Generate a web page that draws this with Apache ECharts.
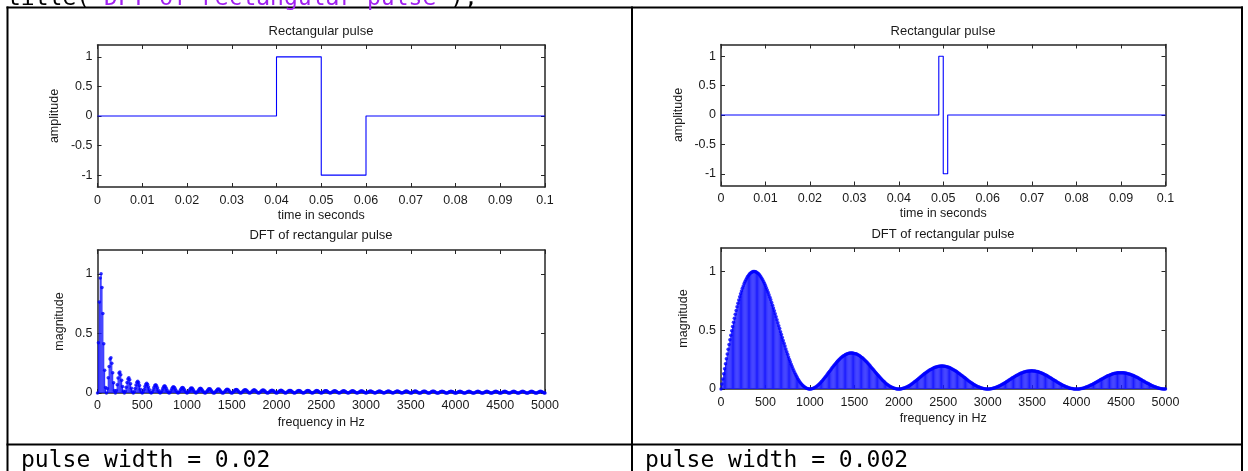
<!DOCTYPE html>
<html><head><meta charset="utf-8">
<script src="https://cdn.jsdelivr.net/npm/echarts@6/dist/echarts.min.js"></script>
<style>html,body{margin:0;padding:0;background:#fff;overflow:hidden}#c{width:1248px;height:471px}</style>
</head><body><div id="c"></div>
<script>
// ---- tick labels ----
const timeTicks = [0,0.01,0.02,0.03,0.04,0.05,0.06,0.07,0.08,0.09,0.1];
const freqTicks = [0,500,1000,1500,2000,2500,3000,3500,4000,4500,5000];
const ampTicks = [-1,-0.5,0,0.5,1];
const magTicks = [0,0.5,1];
// ---- texts ----
const pulseTitle = 'Rectangular pulse';
const dftTitle = 'DFT of rectangular pulse';
const pulseWidthLabels = ['pulse width = 0.02', 'pulse width = 0.002'];
// ---- time signals (breakpoints) ----
const pulseTimeWide = [0,0.04,0.04,0.05,0.05,0.06,0.06,0.1];
const pulseAmpWide  = [0,0,1,1,-1,-1,0,0];
const pulseTimeNarrow = [0,0.049,0.049,0.05,0.05,0.051,0.051,0.1];
const pulseAmpNarrow  = [0,0,1,1,-1,-1,0,0];
// ---- DFT magnitudes, one per 10 Hz bin (0..5000 Hz) ----
const binHz = 10;
const magWide = [
0,.422,.764,.965,1,.885,.667,.414,.191,.047,
0,.038,.127,.223,.286,.295,.250,.170,.085,.022,
0,.020,.069,.126,.167,.177,.154,.107,.055,.015,
0,.014,.048,.088,.118,.127,.111,.078,.040,.011,
0,.010,.037,.068,.091,.099,.087,.062,.032,.009,
0,.008,.030,.055,.074,.081,.072,.051,.027,.007,
0,.007,.025,.046,.063,.069,.061,.044,.023,.006,
0,.006,.021,.040,.055,.060,.053,.038,.020,.005,
0,.005,.019,.035,.048,.053,.047,.034,.018,.005,
0,.005,.017,.032,.043,.047,.042,.030,.016,.004,
0,.004,.015,.028,.039,.043,.039,.028,.015,.004,
0,.004,.014,.026,.036,.039,.036,.026,.014,.004,
0,.003,.013,.024,.033,.036,.033,.024,.013,.003,
0,.003,.012,.022,.031,.034,.031,.022,.012,.003,
0,.003,.011,.021,.029,.032,.029,.021,.011,.003,
0,.003,.010,.019,.027,.030,.027,.019,.010,.003,
0,.003,.010,.018,.025,.028,.025,.018,.010,.003,
0,.003,.009,.017,.024,.027,.024,.017,.009,.003,
0,.002,.009,.017,.023,.025,.023,.017,.009,.002,
0,.002,.008,.016,.022,.024,.022,.016,.008,.002,
0,.002,.008,.015,.021,.023,.021,.015,.008,.002,
0,.002,.008,.015,.020,.022,.020,.015,.008,.002,
0,.002,.007,.014,.019,.021,.019,.014,.007,.002,
0,.002,.007,.014,.019,.021,.019,.014,.007,.002,
0,.002,.007,.013,.018,.020,.018,.013,.007,.002,
0,.002,.007,.013,.018,.019,.018,.013,.007,.002,
0,.002,.006,.012,.017,.019,.017,.012,.006,.002,
0,.002,.006,.012,.017,.018,.017,.012,.006,.002,
0,.002,.006,.012,.016,.018,.016,.012,.006,.002,
0,.002,.006,.011,.016,.017,.016,.011,.006,.002,
0,.002,.006,.011,.015,.017,.015,.011,.006,.002,
0,.002,.006,.011,.015,.017,.015,.011,.006,.002,
0,.002,.006,.011,.015,.016,.015,.011,.006,.002,
0,.002,.006,.010,.014,.016,.014,.010,.006,.002,
0,.002,.005,.010,.014,.016,.014,.010,.005,.002,
0,.001,.005,.010,.014,.016,.014,.010,.005,.001,
0,.001,.005,.010,.014,.015,.014,.010,.005,.001,
0,.001,.005,.010,.014,.015,.014,.010,.005,.001,
0,.001,.005,.010,.013,.015,.013,.010,.005,.001,
0,.001,.005,.010,.013,.015,.013,.010,.005,.001,
0,.001,.005,.009,.013,.015,.013,.009,.005,.001,
0,.001,.005,.009,.013,.014,.013,.009,.005,.001,
0,.001,.005,.009,.013,.014,.013,.009,.005,.001,
0,.001,.005,.009,.013,.014,.013,.009,.005,.001,
0,.001,.005,.009,.013,.014,.013,.009,.005,.001,
0,.001,.005,.009,.013,.014,.013,.009,.005,.001,
0,.001,.005,.009,.013,.014,.013,.009,.005,.001,
0,.001,.005,.009,.013,.014,.013,.009,.005,.001,
0,.001,.005,.009,.013,.014,.013,.009,.005,.001,
0,.001,.005,.009,.013,.014,.013,.009,.005,.001,
0
];
const magNarrow = [
0,.043,.086,.129,.172,.215,.257,.298,.339,.379,
.419,.457,.495,.532,.568,.602,.636,.668,.699,.729,
.758,.785,.810,.834,.857,.877,.897,.914,.930,.945,
.958,.969,.978,.986,.992,.996,.999,1,.999,.997,
.994,.988,.982,.974,.964,.953,.941,.928,.913,.897,
.880,.862,.843,.823,.803,.781,.759,.736,.713,.689,
.665,.640,.615,.590,.564,.539,.514,.488,.463,.438,
.413,.389,.365,.341,.318,.295,.273,.251,.231,.211,
.191,.173,.155,.138,.123,.108,.094,.081,.068,.057,
.047,.038,.030,.023,.017,.012,.007,.004,.002,.000,
0,.000,.002,.004,.007,.010,.015,.020,.026,.032,
.039,.046,.054,.063,.071,.080,.090,.099,.109,.119,
.129,.140,.150,.160,.170,.180,.190,.200,.209,.218,
.227,.236,.244,.252,.259,.266,.272,.278,.284,.288,
.293,.296,.300,.302,.304,.306,.306,.307,.306,.305,
.303,.301,.299,.295,.292,.287,.283,.277,.271,.265,
.259,.252,.244,.237,.229,.221,.212,.204,.195,.186,
.177,.168,.159,.150,.141,.132,.123,.114,.106,.097,
.089,.081,.073,.066,.059,.052,.045,.039,.034,.028,
.023,.019,.015,.012,.009,.006,.004,.002,.001,.000,
0,.000,.001,.002,.004,.006,.008,.011,.014,.018,
.022,.026,.030,.035,.040,.045,.051,.057,.063,.069,
.075,.081,.087,.093,.100,.106,.112,.119,.125,.131,
.136,.142,.147,.153,.158,.163,.167,.171,.175,.179,
.182,.185,.188,.190,.192,.193,.194,.195,.195,.195,
.195,.194,.193,.191,.189,.187,.185,.182,.178,.175,
.171,.167,.162,.158,.153,.148,.143,.137,.132,.126,
.120,.114,.108,.103,.097,.091,.085,.079,.073,.067,
.062,.056,.051,.046,.041,.036,.032,.028,.024,.020,
.017,.014,.011,.008,.006,.004,.003,.002,.001,.000,
0,.000,.001,.002,.003,.004,.006,.008,.010,.013,
.016,.019,.023,.026,.030,.034,.038,.043,.047,.052,
.056,.061,.066,.071,.076,.081,.086,.091,.095,.100,
.105,.109,.114,.118,.122,.126,.130,.133,.136,.139,
.142,.145,.147,.149,.151,.152,.153,.154,.154,.155,
.155,.154,.154,.153,.151,.150,.148,.146,.143,.141,
.138,.135,.131,.128,.124,.120,.116,.112,.107,.103,
.098,.094,.089,.084,.079,.075,.070,.065,.060,.056,
.051,.047,.042,.038,.034,.030,.027,.023,.020,.017,
.014,.011,.009,.007,.005,.004,.002,.001,.001,.000,
0,.000,.001,.001,.002,.004,.005,.007,.009,.011,
.014,.016,.019,.023,.026,.029,.033,.037,.041,.045,
.049,.053,.058,.062,.066,.071,.075,.080,.084,.088,
.092,.096,.100,.104,.108,.112,.115,.118,.121,.124,
.127,.129,.131,.133,.135,.136,.138,.138,.139,.139,
.139,.139,.139,.138,.137,.136,.134,.132,.130,.128,
.126,.123,.120,.117,.114,.110,.106,.103,.099,.095,
.091,.086,.082,.078,.073,.069,.065,.060,.056,.052,
.048,.044,.040,.036,.032,.028,.025,.022,.019,.016,
.013,.011,.009,.007,.005,.003,.002,.001,.001,.000,
0
];

// ---- build option ----
const FONT = '"Liberation Sans", Arial, sans-serif';
const MONO = '"DejaVu Sans Mono", monospace';
const AX = '#262626';
const TXT = '#1a1a1a';
const BLUE = '#0000ff';
const plainNum = v => String(v);

const grids = [
  {left: 97.5, top: 45, width: 447.5, height: 142},   // top-left
  {left: 97.5, top: 250, width: 447.5, height: 143},  // bottom-left
  {left: 721, top: 44.5, width: 444.5, height: 141},  // top-right
  {left: 721, top: 248, width: 444.5, height: 141}    // bottom-right
].map(g => Object.assign({outerBoundsMode: 'none', containLabel: false}, g));

function xPair(g, ticks, min, max, name, margin, gap) {
  const common = {
    type: 'value', gridIndex: g, min: min, max: max,
    axisLine: {show: true, onZero: false, lineStyle: {color: AX, width: 1.5}},
    axisTick: {show: true, inside: true, length: 4, customValues: ticks, lineStyle: {color: AX, width: 1}},
    splitLine: {show: false}
  };
  return [
    Object.assign({}, common, {
      position: 'bottom',
      axisLabel: {show: true, customValues: ticks, formatter: plainNum, margin: margin, color: TXT, fontSize: 12.5, fontFamily: FONT},
      name: name, nameLocation: 'middle', nameGap: gap,
      nameTextStyle: {color: TXT, fontSize: 12.5, fontFamily: FONT}
    }),
    Object.assign({}, common, {position: 'top', axisLabel: {show: false}})
  ];
}
function yPair(g, ticks, min, max, name, gap) {
  const common = {
    type: 'value', gridIndex: g, min: min, max: max,
    axisLine: {show: true, onZero: false, lineStyle: {color: AX, width: 1.5}},
    axisTick: {show: true, inside: true, length: 4, customValues: ticks, lineStyle: {color: AX, width: 1}},
    splitLine: {show: false}
  };
  return [
    Object.assign({}, common, {
      position: 'left',
      axisLabel: {show: true, customValues: ticks, formatter: plainNum, margin: 5, color: TXT, fontSize: 12.5, fontFamily: FONT},
      name: name, nameLocation: 'middle', nameGap: gap, nameRotate: 90,
      nameTextStyle: {color: TXT, fontSize: 12.5, fontFamily: FONT}
    }),
    Object.assign({}, common, {position: 'right', axisLabel: {show: false}})
  ];
}

const xAxes = [].concat(
  xPair(0, timeTicks, 0, 0.1, 'time in seconds', 7, 22),
  xPair(1, freqTicks, 0, 5000, 'frequency in Hz', 6, 23),
  xPair(2, timeTicks, 0, 0.1, 'time in seconds', 7, 22),
  xPair(3, freqTicks, 0, 5000, 'frequency in Hz', 7, 23)
);
const yAxes = [].concat(
  yPair(0, ampTicks, -1.2, 1.2, 'amplitude', 36),
  yPair(1, magTicks, 0, 1.2, 'magnitude', 31),
  yPair(2, ampTicks, -1.2, 1.2, 'amplitude', 36),
  yPair(3, magTicks, 0, 1.2, 'magnitude', 31)
);

function pts(xs, ys) { return xs.map((x, i) => [x, ys[i]]); }
function stemPts(mag) { return mag.map((v, i) => [i * binHz, v]); }

function timeSeries(g, xs, ys) {
  return {type: 'line', xAxisIndex: 2*g, yAxisIndex: 2*g, data: pts(xs, ys),
    showSymbol: false, symbol: 'none', lineStyle: {color: BLUE, width: 1.1},
    animation: false, silent: true, z: 3};
}
function stemSeries(g, mag) {
  return [
    {type: 'bar', xAxisIndex: 2*g, yAxisIndex: 2*g, data: stemPts(mag), barWidth: 0.9,
      itemStyle: {color: '#1a1aff'}, animation: false, silent: true, z: 2},
    {type: 'scatter', xAxisIndex: 2*g, yAxisIndex: 2*g, data: stemPts(mag), symbol: 'circle',
      symbolSize: 3.5, itemStyle: {color: BLUE}, animation: false, silent: true, z: 3}
  ];
}

const series = [].concat(
  [timeSeries(0, pulseTimeWide, pulseAmpWide)],
  stemSeries(1, magWide),
  [timeSeries(2, pulseTimeNarrow, pulseAmpNarrow)],
  stemSeries(3, magNarrow)
);

function title(text, x, y) {
  return {type: 'text', x: x, y: y, silent: true, z: 10,
    style: {text: text, fill: TXT, font: '13px ' + FONT, textAlign: 'center', align: 'center',
      textVerticalAlign: 'middle', verticalAlign: 'middle'}};
}
function hline(x1, x2, y) {
  return {type: 'line', silent: true, z: 10, shape: {x1: x1, y1: y, x2: x2, y2: y}, style: {stroke: '#000', lineWidth: 2}};
}
function vline(x, y1, y2) {
  return {type: 'line', silent: true, z: 10, shape: {x1: x, y1: y1, x2: x, y2: y2}, style: {stroke: '#000', lineWidth: 2}};
}

const CODE_FONT = '23px ' + MONO;
const graphic = [
  // table frame
  hline(6.5, 1243, 7.5), hline(6.5, 1243, 444.5),
  vline(7.5, 6.5, 471), vline(632, 6.5, 471), vline(1242, 6.5, 471),
  // code line above the table (cut off)
  {type: 'text', x: 7, y: -1, silent: true, z: 10,
    style: {text: '{k|title(}{s|\'DFT of rectangular pulse\'}{k|);}',
      rich: {k: {fill: '#000', font: CODE_FONT}, s: {fill: '#A020F0', font: CODE_FONT}},
      font: CODE_FONT, textVerticalAlign: 'middle', verticalAlign: 'middle'}},
  // panel titles
  title(pulseTitle, 321, 31), title(dftTitle, 321, 235),
  title(pulseTitle, 943, 31), title(dftTitle, 943, 234.5),
  // captions
  {type: 'text', x: 21, y: 461, silent: true, z: 10,
    style: {text: pulseWidthLabels[0], fill: '#000', font: CODE_FONT, textVerticalAlign: 'middle', verticalAlign: 'middle'}},
  {type: 'text', x: 645, y: 461, silent: true, z: 10,
    style: {text: pulseWidthLabels[1], fill: '#000', font: CODE_FONT, textVerticalAlign: 'middle', verticalAlign: 'middle'}}
];

const chart = echarts.init(document.getElementById('c'), null, {renderer: 'canvas'});
chart.setOption({
  backgroundColor: '#fff',
  animation: false,
  grid: grids,
  xAxis: xAxes,
  yAxis: yAxes,
  series: series,
  graphic: graphic
});
</script></body></html>
